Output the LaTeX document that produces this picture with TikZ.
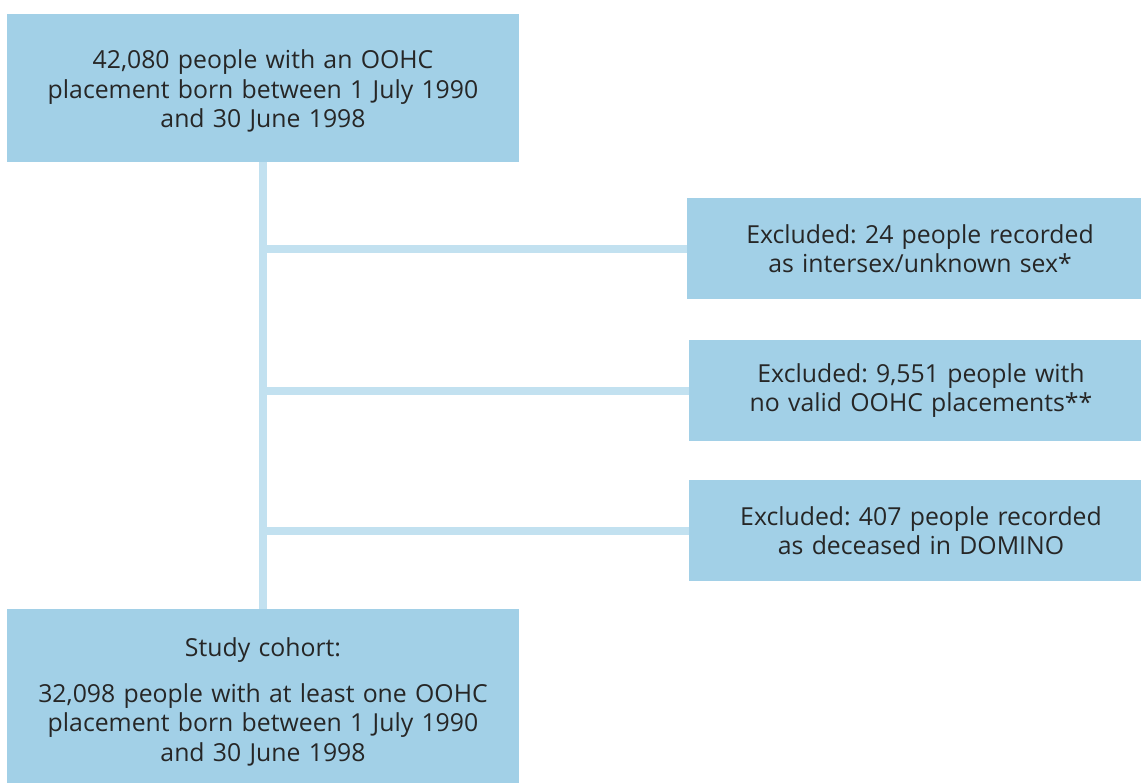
\documentclass[tikz,border=0pt]{standalone}
\usepackage{fontspec}
\setmainfont{Open Sans}
\usepackage{xcolor}
\usetikzlibrary{positioning,calc}
\definecolor{boxBlue}  {RGB}{162, 208, 231}
\definecolor{lineBlue} {RGB}{194, 225, 240}
\definecolor{textDark} {RGB}{38,  38,  38}

\tikzset{
  flowbox/.style={fill=boxBlue,draw=none,inner sep=0pt,align=center,
                  text=textDark,font=\fontsize{18.6}{22.2}\selectfont\frenchspacing},
  mainbox/.style={flowbox,minimum width=512*0.75pt,text width=480*0.75pt,
                  execute at begin node={\rule{0pt}{#1}}},
  mainbox/.default=18.6pt,
  exclbox/.style={flowbox,minimum height=101*0.75pt,text width=420*0.75pt},
  link/.style={draw=lineBlue,line width=6pt}
}

\begin{document}
\begin{tikzpicture}[x=0.75pt,y=-0.75pt]
    \useasboundingbox (0,0) rectangle (1141,783);

    \coordinate (spine) at (263,0);

    % ════════ main column ════════
    \node[mainbox,minimum height=148*0.75pt] (top) at (263,88)
      {42,080 people with an OOHC\\ placement born between 1 July 1990\\ and 30 June 1998};
    \node[mainbox=23pt,minimum height=174*0.75pt] (cohort) at (263,696)
      {Study cohort:\\[12pt] 32,098 people with at least one OOHC\\ placement born between 1 July 1990\\ and 30 June 1998};

    % ════════ exclusions (right side, running off the edge) ════════
    \node[exclbox,minimum width=466*0.75pt] (ex1) at (920,248.5)
      {Excluded: 24 people recorded\\ as intersex/unknown sex*};
    \node[exclbox,minimum width=464*0.75pt] (ex2) at (921,390.5)
      {Excluded: 9,551 people with\\ no valid OOHC placements**};
    \node[exclbox,minimum width=464*0.75pt] (ex3) at (921,530.5)
      {Excluded: 407 people recorded\\ as deceased in DOMINO};

    % spine and branches
    \draw[link] (top.south -| spine) -- (cohort.north -| spine);
    \foreach \n in {ex1,ex2,ex3}{
      \draw[link] (\n.west -| spine) -- (\n.west);
    }

\end{tikzpicture}
\end{document}
